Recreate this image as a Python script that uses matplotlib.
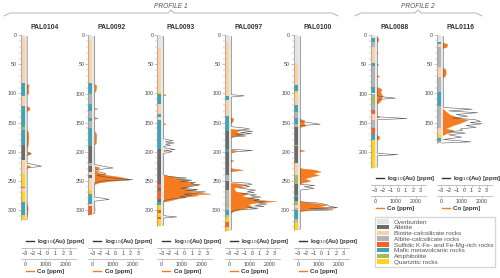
import matplotlib
matplotlib.use('Agg')
import matplotlib.pyplot as plt
from matplotlib.lines import Line2D
from matplotlib.patches import Patch
from matplotlib.ticker import MultipleLocator, FixedLocator

plt.rcParams['font.family'] = ['Liberation Sans', 'DejaVu Sans']

# ---- lithology legend ----
lith_codes = ['OB', 'AB', 'BC', 'AC', 'SU', 'MV', 'AM', 'QZ']
lith_labels = ['Overburden', 'Albitite', 'Biotite-calcsilicate rocks', 'Albite-calcsilicate rocks',
               'Sulfidic K-Fe- and Fe-Mg-rich rocks', 'Mafic metavolcanic rocks', 'Amphibolite',
               'Quartzitic rocks']
lith_colors = {'OB': '#e4e4e4', 'AB': '#6b6b6b', 'BC': '#fdd1a6', 'AC': '#b4b4b4',
               'SU': '#f4622a', 'MV': '#3ba6b6', 'AM': '#a8b964', 'QZ': '#ffd21c'}

# ---- drill holes ----
holes = ['PAL0104', 'PAL0092', 'PAL0093', 'PAL0097', 'PAL0100', 'PAL0088', 'PAL0116']
profile = [1, 1, 1, 1, 1, 2, 2]
max_depth = [318, 308, 328, 336, 335, 228, 185]

# (top, bottom, lithology)
lith_0104 = [(0, 4, 'OB'), (4, 82, 'BC'), (82, 104, 'MV'), (104, 122, 'BC'), (122, 157, 'MV'),
             (157, 162, 'AM'), (162, 188, 'MV'), (188, 215, 'AB'), (215, 238, 'BC'), (238, 261, 'QZ'),
             (261, 263, 'SU'), (263, 270, 'BC'), (270, 286, 'QZ'), (286, 309, 'MV'), (309, 318, 'QZ')]
lith_0092 = [(0, 8, 'OB'), (8, 82, 'BC'), (82, 100, 'MV'), (100, 118, 'AC'), (118, 130, 'MV'),
             (130, 142, 'AC'), (142, 148, 'MV'), (148, 160, 'AC'), (160, 190, 'MV'), (190, 220, 'AB'),
             (220, 225, 'AC'), (225, 235, 'AB'), (235, 240, 'BC'), (240, 245, 'AB'), (245, 265, 'BC'),
             (265, 272, 'QZ'), (272, 290, 'MV'), (290, 293, 'BC'), (293, 308, 'SU')]
lith_0093 = [(0, 22, 'OB'), (22, 98, 'BC'), (98, 101, 'QZ'), (101, 118, 'MV'), (118, 135, 'BC'),
             (135, 140, 'MV'), (140, 145, 'BC'), (145, 195, 'MV'), (195, 255, 'AB'), (255, 262, 'SU'),
             (262, 268, 'AB'), (268, 282, 'SU'), (282, 287, 'AB'), (287, 292, 'MV'), (292, 300, 'QZ'),
             (300, 305, 'SU'), (305, 312, 'QZ'), (312, 316, 'SU'), (316, 328, 'QZ')]
lith_0097 = [(0, 12, 'OB'), (12, 105, 'BC'), (105, 112, 'MV'), (112, 138, 'BC'), (138, 165, 'MV'),
             (165, 195, 'AB'), (195, 200, 'MV'), (200, 240, 'AB'), (240, 250, 'AC'), (250, 265, 'AB'),
             (265, 290, 'AC'), (290, 293, 'AM'), (293, 300, 'AC'), (300, 308, 'MV'), (308, 312, 'AC'),
             (312, 320, 'QZ'), (320, 330, 'SU'), (330, 336, 'QZ')]
lith_0100 = [(0, 48, 'OB'), (48, 85, 'BC'), (85, 95, 'MV'), (95, 99, 'QZ'), (99, 120, 'BC'),
             (120, 132, 'MV'), (132, 142, 'AC'), (142, 152, 'MV'), (152, 158, 'AC'), (158, 188, 'AB'),
             (188, 191, 'AM'), (191, 220, 'AB'), (220, 240, 'BC'), (240, 255, 'AM'), (255, 275, 'AB'),
             (275, 278, 'MV'), (278, 285, 'AB'), (285, 292, 'AM'), (292, 296, 'BC'), (296, 300, 'AC'),
             (300, 315, 'MV'), (315, 320, 'AC'), (320, 335, 'QZ')]
lith_0088 = [(0, 5, 'OB'), (5, 12, 'MV'), (12, 20, 'AC'), (20, 48, 'BC'), (48, 52, 'MV'),
             (52, 88, 'AC'), (88, 100, 'MV'), (100, 120, 'AM'), (120, 128, 'AC'), (128, 135, 'SU'),
             (135, 145, 'BC'), (145, 160, 'AC'), (160, 170, 'SU'), (170, 180, 'MV'), (180, 228, 'QZ')]
lith_0116 = [(0, 11, 'OB'), (11, 15, 'MV'), (15, 20, 'BC'), (20, 55, 'AC'), (55, 72, 'BC'),
             (72, 98, 'AC'), (98, 122, 'MV'), (122, 160, 'AC'), (160, 172, 'BC'), (172, 176, 'QZ'),
             (176, 182, 'MV'), (182, 185, 'AC')]

# (depth m, log10 Au ppm)
au_0104 = [(2, -2.7), (200, -2.7), (203, -2.2), (206, -2.7), (220, -2.7), (222, -1.8), (225, -0.8),
           (228, -2.7), (316, -2.7)]
au_0092 = [(2, -2.7), (222, -2.7), (225, -1.6), (228, -0.3), (231, -2.5), (235, -2.0), (238, -1.2),
           (241, -2.4), (244, -1.0), (246, 0.4), (248, 2.3), (250, -1.5), (253, -2.7), (278, -2.7),
           (280, -1.6), (282, -0.8), (285, -2.7), (306, -2.7)]
au_0093 = [(2, -2.7), (178, -2.7), (181, -1.5), (183, -2.5), (185, -1.3), (187, -2.5), (189, -1.8),
           (191, -2.7), (194, -2.5), (196, -1.2), (198, -2.4), (200, -1.6), (203, -2.7), (240, -2.7),
           (243, -1.8), (245, 0.3), (247, -1.0), (249, 1.0), (251, -0.5), (253, 1.5), (255, 0.8),
           (257, 2.0), (259, 1.2), (261, 0.5), (263, -0.5), (265, 1.8), (267, 0.2), (269, 2.8),
           (271, 1.5), (273, 0.0), (275, 1.0), (277, -0.6), (279, 0.2), (281, -1.5), (284, -2.7),
           (310, -2.7), (312, -1.0), (314, -2.7), (326, -2.7)]
au_0097 = [(2, -2.7), (102, -2.7), (104, -1.0), (106, -2.7), (157, -2.7), (159, -1.2), (161, -0.3),
           (163, -2.0), (165, 0.1), (167, -1.5), (169, 0.0), (171, -2.2), (173, -0.8), (175, -2.7),
           (196, -2.7), (198, 0.1), (200, -2.0), (202, -2.7), (252, -2.7), (254, -0.6), (256, 0.0),
           (258, -1.0), (260, -0.3), (262, -1.8), (264, -0.8), (266, 0.5), (268, -0.6), (270, 0.3),
           (272, -1.4), (274, 0.6), (276, -0.2), (278, 1.2), (280, -0.5), (282, 1.0), (284, 0.2),
           (286, 1.8), (288, 0.8), (290, 2.0), (292, 0.4), (294, 1.6), (296, -0.6), (298, 0.8),
           (300, -2.0), (303, -2.7), (334, -2.7)]
au_0100 = [(2, -2.7), (148, -2.7), (151, -1.0), (153, -0.1), (155, -2.7), (256, -2.7), (258, -0.8),
           (260, -2.2), (263, -0.9), (266, -2.7), (286, -2.7), (288, -0.5), (291, 0.8), (294, 1.2),
           (296, 2.2), (298, -1.5), (300, 1.6), (302, -2.7), (333, -2.7)]
au_0088 = [(2, -2.7), (104, -2.7), (106, -1.8), (108, -0.3), (110, -2.4), (112, -2.7), (140, -2.7),
           (143, 1.2), (145, -2.7), (203, -2.7), (205, 0.0), (207, -2.7), (226, -2.7)]
au_0116 = [(2, -2.7), (124, -2.7), (127, 1.1), (130, -2.0), (133, 1.8), (136, -1.0), (139, 0.5),
           (142, -1.5), (145, 1.5), (148, 2.2), (150, 0.8), (152, 2.4), (155, 0.3), (158, 1.6),
           (161, -0.5), (163, -0.2), (166, -1.8), (168, 0.2), (171, -2.0), (175, -0.3), (179, -2.7),
           (183, 0.9), (185, -2.7)]

# (depth m, Co ppm)
co_0104 = [(2, 30), (82, 30), (85, 180), (92, 150), (99, 170), (103, 30), (121, 30), (124, 220),
           (128, 200), (131, 30), (160, 30), (166, 150), (176, 170), (188, 140), (199, 60), (203, 300),
           (206, 60), (222, 60), (225, 250), (228, 60), (286, 60), (295, 130), (306, 120), (316, 30)]
co_0092 = [(2, 30), (82, 30), (86, 180), (95, 150), (100, 30), (124, 30), (126, 220), (128, 30),
           (140, 30), (142, 250), (144, 30), (160, 30), (170, 180), (185, 160), (190, 30), (224, 30),
           (227, 350), (231, 120), (236, 300), (240, 700), (243, 1300), (246, 1700), (248, 1800),
           (250, 900), (253, 300), (256, 60), (280, 60), (300, 100), (306, 30)]
co_0093 = [(2, 30), (100, 30), (102, 200), (104, 30), (150, 30), (152, 200), (154, 30), (195, 30),
           (198, 250), (200, 30), (240, 60), (244, 900), (246, 600), (248, 1300), (250, 1000),
           (252, 1500), (254, 1200), (256, 1900), (258, 1400), (260, 1300), (263, 1100), (266, 1700),
           (268, 1200), (269, 1500), (272, 2400), (274, 1500), (275, 1800), (278, 1000), (282, 600),
           (286, 80), (326, 30)]
co_0097 = [(2, 30), (140, 30), (143, 200), (148, 150), (152, 30), (160, 30), (163, 500), (166, 300),
           (169, 700), (172, 400), (175, 30), (196, 30), (198, 350), (201, 30), (213, 30), (215, 200),
           (217, 30), (228, 30), (231, 650), (234, 30), (253, 30), (256, 800), (259, 600), (262, 200),
           (268, 300), (272, 900), (276, 600), (280, 1200), (283, 1500), (285, 2300), (287, 1400),
           (290, 900), (294, 1100), (298, 700), (302, 200), (306, 30), (334, 30)]
co_0100 = [(2, 30), (143, 30), (146, 300), (150, 250), (155, 350), (158, 30), (196, 30), (198, 300),
           (200, 30), (228, 30), (231, 800), (234, 1100), (237, 700), (240, 1000), (243, 600),
           (246, 300), (250, 600), (253, 200), (256, 30), (285, 30), (288, 700), (291, 1400),
           (294, 1000), (296, 1800), (299, 600), (302, 30), (333, 30)]
co_0088 = [(2, 30), (5, 150), (10, 130), (12, 30), (28, 30), (30, 120), (32, 30), (48, 30), (50, 150),
           (52, 30), (68, 30), (70, 200), (72, 30), (88, 30), (92, 300), (98, 250), (104, 350),
           (110, 280), (115, 200), (118, 30), (138, 30), (140, 200), (142, 30), (170, 30), (174, 200),
           (178, 180), (180, 30), (226, 30)]
co_0116 = [(2, 30), (12, 30), (15, 300), (20, 250), (22, 30), (55, 30), (58, 200), (65, 220), (70, 180),
           (72, 30), (125, 30), (130, 200), (136, 400), (140, 700), (143, 1000), (145, 1300),
           (148, 1100), (151, 900), (154, 600), (157, 400), (160, 200), (163, 600), (166, 500),
           (169, 200), (172, 30), (185, 30)]

lith_all = [lith_0104, lith_0092, lith_0093, lith_0097, lith_0100, lith_0088, lith_0116]
au_all = [au_0104, au_0092, au_0093, au_0097, au_0100, au_0088, au_0116]
co_all = [co_0104, co_0092, co_0093, co_0097, co_0100, co_0088, co_0116]

# ---- layout (pixels) ----
W, H = 500, 278
PX_PER_M = 0.582
TOP_Y = 35.3
spine_x = [20.7, 88.3, 157.3, 225.0, 294.0, 371.0, 437.0]
AX_W = 55.0
AU_LIM = (-3.55, 3.7)
CO_LIM = (-212, 2502)
AU_FLOOR = -2.7
lower_y = {1: dict(leg_au=241.5, au=248.0, co=259.0, leg_co=271.5),
           2: dict(leg_au=178.5, au=185.0, co=196.0, leg_co=208.0)}

GREY_TXT = '#444444'
CO_COLOR = '#f47b20'
AU_COLOR = '#5a5a5a'


def fig_rect(x, y_top, w, h):
    return [x / W, 1 - (y_top + h) / H, w / W, h / H]


fig = plt.figure(figsize=(W / 100, H / 100), dpi=100)
fig.patch.set_facecolor('white')

for i, name in enumerate(holes):
    x0 = spine_x[i]
    dmax = max_depth[i]
    ax = fig.add_axes(fig_rect(x0, TOP_Y, AX_W, dmax * PX_PER_M))
    co_ax = ax.twiny()
    ax.set_zorder(co_ax.get_zorder() + 1)
    ax.patch.set_visible(False)

    # lithology column
    for top, bot, code in lith_all[i]:
        ax.bar(-3.27, bot - top, bottom=top, width=0.54, color=lith_colors[code],
               linewidth=0, align='center')

    # Co
    cd = [p[0] for p in co_all[i]]
    cv = [p[1] for p in co_all[i]]
    co_ax.fill_betweenx(cd, 0, cv, color=CO_COLOR, linewidth=0.3, edgecolor=CO_COLOR, clip_on=False)
    co_ax.set_xlim(*CO_LIM)
    co_ax.set_ylim(dmax, 0)
    co_ax.axis('off')

    # Au: light strip up to detection floor, then the line
    ad = [p[0] for p in au_all[i]]
    av = [p[1] for p in au_all[i]]
    ax.fill_betweenx(ad, -3.0, [min(v, AU_FLOOR) for v in av], color='#e8e8e8', linewidth=0)
    ax.plot(av, ad, color=AU_COLOR, lw=0.4, clip_on=False)

    ax.set_xlim(*AU_LIM)
    ax.set_ylim(dmax, 0)
    for s in ['top', 'right', 'bottom']:
        ax.spines[s].set_visible(False)
    ax.spines['left'].set_color('#999999')
    ax.spines['left'].set_linewidth(0.5)
    ax.yaxis.set_major_locator(MultipleLocator(50))
    ax.yaxis.set_minor_locator(MultipleLocator(10))
    ax.tick_params(axis='y', which='major', length=2, width=0.4, color='#999999',
                   labelsize=3.8, labelcolor=GREY_TXT, pad=0.8)
    ax.tick_params(axis='y', which='minor', length=1.2, width=0.3, color='#999999')
    ax.tick_params(axis='x', bottom=False, labelbottom=False)

    fig.text((x0 + 23.5) / W, 1 - 27 / H, name, ha='center', va='center',
             fontsize=4.9, fontweight='bold', color='#333333')

    # lower scale axes
    ly = lower_y[profile[i]]
    au_sc = fig.add_axes(fig_rect(x0, ly['au'], AX_W, 0.01))
    au_sc.set_xlim(*AU_LIM)
    au_sc.set_xticks([-3, -2, -1, 0, 1, 2, 3])
    co_sc = fig.add_axes(fig_rect(x0, ly['co'], AX_W, 0.01))
    co_sc.set_xlim(*CO_LIM)
    co_sc.set_xticks([0, 1000, 2000])
    co_sc.xaxis.set_minor_locator(FixedLocator([500, 1500, 2500]))
    for sc in (au_sc, co_sc):
        sc.patch.set_visible(False)
        sc.set_yticks([])
        for s in ['top', 'right', 'left']:
            sc.spines[s].set_visible(False)
        sc.spines['bottom'].set_color('#aaaaaa')
        sc.spines['bottom'].set_linewidth(0.5)
        sc.tick_params(axis='x', which='major', length=1.5, width=0.4, color='#999999',
                       labelsize=3.8, labelcolor=GREY_TXT, pad=1)
        sc.tick_params(axis='x', which='minor', length=1.0, width=0.3, color='#999999')

    fig.legend(handles=[Line2D([0], [0], color='#333333', lw=1.0)],
               labels=[r'log$_{10}$(Au) [ppm]'], loc='center left',
               bbox_to_anchor=((x0 + 5) / W, 1 - ly['leg_au'] / H), frameon=False,
               prop={'size': 4.5, 'weight': 'bold'}, handlelength=1.3, handletextpad=0.5,
               borderpad=0, borderaxespad=0, labelcolor='#333333')
    fig.legend(handles=[Line2D([0], [0], color=CO_COLOR, lw=1.0)],
               labels=['Co [ppm]'], loc='center left',
               bbox_to_anchor=((x0 + 5) / W, 1 - ly['leg_co'] / H), frameon=False,
               prop={'size': 4.5, 'weight': 'bold'}, handlelength=1.3, handletextpad=0.5,
               borderpad=0, borderaxespad=0, labelcolor='#333333')

# profile brackets
over = fig.add_axes([0, 0, 1, 1], zorder=-1)
over.set_xlim(0, W)
over.set_ylim(H, 0)
over.axis('off')
over.plot([4, 10, 168, 171, 174, 332, 338], [16, 13, 13, 10, 13, 13, 16], color='#aaaaaa', lw=0.6)
over.plot([355, 361, 415, 418, 421, 476, 482], [16, 13, 13, 10, 13, 13, 16], color='#aaaaaa', lw=0.6)
over.text(171, 6, 'PROFILE 1', ha='center', va='center', fontsize=4.8, style='italic', color='#555555')
over.text(418, 6, 'PROFILE 2', ha='center', va='center', fontsize=4.8, style='italic', color='#555555')

# lithology legend
handles = [Patch(facecolor=lith_colors[c], edgecolor='none') for c in lith_codes]
fig.legend(handles=handles, labels=lith_labels, loc='upper left',
           bbox_to_anchor=(375 / W, 1 - 217 / H), frameon=True, fancybox=False,
           edgecolor='#cccccc', fontsize=4.55, handlelength=1.8, handleheight=0.7,
           labelspacing=0.05, borderpad=0.35, handletextpad=0.8, labelcolor='#555555',
           borderaxespad=0)

fig.savefig('out.png', dpi=100, facecolor='white')
